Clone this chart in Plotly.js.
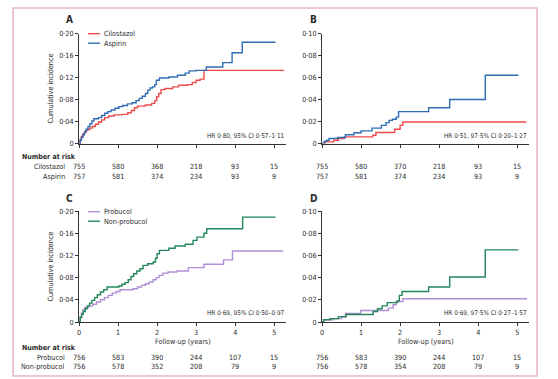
<!DOCTYPE html>
<html>
<head>
<meta charset="utf-8">
<script src="https://cdn.plot.ly/plotly-3.0.1.min.js"></script>
<style>html,body{margin:0;padding:0;background:#fff;}#chart{width:558px;height:379px;}</style>
</head>
<body>
<div id="chart"></div>
<script>
// ---------- data ----------
// Panel A (cilostazol vs aspirin, all outcomes)
const aAspT = [0,0.03,0.06,0.1,0.14,0.18,0.23,0.28,0.33,0.38,0.5,0.58,0.66,0.74,0.82,0.92,1.02,1.12,1.24,1.36,1.46,1.54,1.62,1.7,1.76,1.82,1.88,1.94,1.98,2.06,2.3,2.52,2.72,2.82,3.0,3.26,3.68,3.92,4.18,5.03];
const aAspY = [0,0.006,0.011,0.016,0.021,0.026,0.031,0.036,0.041,0.045,0.047,0.051,0.055,0.058,0.061,0.064,0.067,0.069,0.072,0.074,0.078,0.082,0.086,0.091,0.097,0.101,0.103,0.107,0.115,0.119,0.121,0.124,0.128,0.132,0.133,0.139,0.147,0.165,0.184,0.184];
const aCilT = [0,0.03,0.06,0.1,0.15,0.2,0.27,0.34,0.42,0.5,0.58,0.66,0.76,0.9,1.1,1.25,1.34,1.42,1.5,1.7,1.86,1.94,1.99,2.04,2.1,2.2,2.4,2.55,2.78,2.9,3.0,3.1,3.2,5.25];
const aCilY = [0,0.007,0.013,0.018,0.022,0.025,0.028,0.031,0.035,0.039,0.043,0.047,0.050,0.052,0.053,0.056,0.060,0.065,0.068,0.070,0.073,0.078,0.085,0.091,0.098,0.100,0.103,0.106,0.107,0.111,0.115,0.117,0.133,0.133];
// Panel B
const bAspT = [0,0.06,0.12,0.18,0.4,0.6,0.82,1.0,1.28,1.52,1.64,1.72,1.8,1.9,1.96,2.73,3.27,4.18,5.03];
const bAspY = [0,0.002,0.003,0.0045,0.0055,0.008,0.0098,0.0115,0.014,0.0165,0.019,0.021,0.022,0.024,0.029,0.0325,0.040,0.062,0.062];
const bCilT = [0,0.08,0.3,0.42,0.57,1.3,1.38,1.86,2.0,2.07,5.23];
const bCilY = [0,0.0015,0.003,0.0045,0.006,0.0075,0.010,0.013,0.0165,0.0195,0.0195];
// Panel C (probucol vs non-probucol)
const cNonT = [0,0.03,0.07,0.11,0.16,0.21,0.27,0.33,0.4,0.47,0.55,0.63,0.72,1.02,1.1,1.18,1.26,1.33,1.4,1.48,1.56,1.64,1.76,1.9,1.96,2.0,2.06,2.3,2.46,2.72,2.92,3.02,3.2,3.27,4.19,5.03];
const cNonY = [0,0.008,0.014,0.019,0.024,0.029,0.034,0.039,0.044,0.049,0.054,0.058,0.063,0.065,0.068,0.071,0.076,0.082,0.087,0.092,0.096,0.102,0.105,0.108,0.115,0.123,0.129,0.133,0.137,0.140,0.147,0.153,0.160,0.168,0.189,0.189];
const cProT = [0,0.03,0.06,0.1,0.15,0.25,0.35,0.45,0.55,0.65,0.75,0.85,0.95,1.05,1.38,1.5,1.6,1.7,1.8,1.9,1.98,2.05,2.15,2.28,2.5,2.8,3.2,3.7,3.93,5.23];
const cProY = [0,0.009,0.016,0.022,0.026,0.029,0.032,0.036,0.040,0.044,0.048,0.052,0.055,0.058,0.060,0.063,0.066,0.069,0.072,0.076,0.080,0.084,0.088,0.090,0.092,0.098,0.104,0.112,0.128,0.128];
// Panel D
const dNonT = [0,0.04,0.2,0.42,0.62,1.31,1.42,1.54,1.67,1.93,1.98,2.05,2.73,3.27,4.18,5.03];
const dNonY = [0,0.002,0.003,0.0048,0.0068,0.0095,0.012,0.0145,0.0175,0.019,0.024,0.0275,0.0315,0.0405,0.065,0.065];
const dProT = [0,0.04,0.3,0.5,0.6,0.99,1.7,1.82,1.9,2.07,5.25];
const dProY = [0,0.002,0.003,0.0045,0.0077,0.0103,0.0125,0.0155,0.0185,0.021,0.021];

// Number at risk
const riskYears = [0,1,2,3,4,5];
const aRiskCil = [755,580,368,218,93,15];
const aRiskAsp = [757,581,374,234,93,9];
const bRiskCil = [755,580,370,218,93,15];
const bRiskAsp = [757,581,374,234,93,9];
const cRiskPro = [756,583,390,244,107,15];
const cRiskNon = [756,578,352,208,79,9];
const dRiskPro = [756,583,390,244,107,15];
const dRiskNon = [756,578,354,208,79,9];

// Tick labels
const xTicks = [0,1,2,3,4,5];
const xTickText = ['0','1','2','3','4','5'];
const yTicksBig = [0,0.04,0.08,0.12,0.16,0.20];
const yTextBig = ['0','0·04','0·08','0·12','0·16','0·20'];
const yTicksSmall = [0,0.02,0.04,0.06,0.08,0.10];
const yTextSmall = ['0','0·02','0·04','0·06','0·08','0·10'];

const hrText = ['HR 0·80, 95% CI 0·57–1·11','HR 0·51, 97·5% CI 0·20–1·27','HR 0·69, 95% CI 0·50–0·97','HR 0·69, 97·5% CI 0·27–1·57'];

// ---------- styling ----------
const W = 558, H = 379;
const FONT = "'Liberation Sans Narrow', 'DejaVu Sans Condensed', 'Noto Sans', sans-serif";
const TXT = '#2b2b2b';
const RED = '#ef4b4b', BLUE = '#2e6db4', GREEN = '#23875a', PURPLE = '#b08fd6';
const FS = 7.2;
const px = v => v / W;
const py = v => 1 - v / H;

function trace(x, y, color, xa, ya, name) {
  return {x, y, type: 'scatter', mode: 'lines', line: {shape: 'hv', color, width: 1.4},
          xaxis: xa, yaxis: ya, name, showlegend: false, hoverinfo: 'skip'};
}
const data = [
  trace(aCilT, aCilY, RED, 'x', 'y', 'Cilostazol'),
  trace(aAspT, aAspY, BLUE, 'x', 'y', 'Aspirin'),
  trace(bCilT, bCilY, RED, 'x2', 'y2', 'Cilostazol'),
  trace(bAspT, bAspY, BLUE, 'x2', 'y2', 'Aspirin'),
  trace(cProT, cProY, PURPLE, 'x3', 'y3', 'Probucol'),
  trace(cNonT, cNonY, GREEN, 'x3', 'y3', 'Non-probucol'),
  trace(dProT, dProY, PURPLE, 'x4', 'y4', 'Probucol'),
  trace(dNonT, dNonY, GREEN, 'x4', 'y4', 'Non-probucol')
];

const leftX = [px(79), px(286)], rightX = [px(322), px(529)];
const topY = [py(143.5), py(33.5)], botY = [py(322), py(211)];

function xax(dom, anchor, labels) {
  return {domain: dom, anchor, range: [0, 5.3], tickvals: xTicks, ticktext: xTickText,
          showticklabels: labels, ticks: 'outside', ticklen: 3, tickwidth: 1, tickcolor: '#333',
          showline: true, linecolor: '#333', linewidth: 1, showgrid: false, zeroline: false,
          tickfont: {family: FONT, size: FS, color: TXT}, fixedrange: true};
}
function yax(dom, anchor, max, vals, text) {
  return {domain: dom, anchor, range: [0, max], tickvals: vals, ticktext: text,
          ticks: 'outside', ticklen: 3, tickwidth: 1, tickcolor: '#333',
          showline: true, linecolor: '#333', linewidth: 1, showgrid: false, zeroline: false,
          tickfont: {family: FONT, size: FS, color: TXT}, fixedrange: true};
}

const ann = [];
function txt(x, y, text, opts) {
  ann.push(Object.assign({x, y, xref: 'paper', yref: 'paper', text, showarrow: false,
    xanchor: 'center', yanchor: 'middle', font: {family: FONT, size: FS, color: TXT}}, opts || {}));
}
// panel letters
const letterFont = {family: FONT, size: 10, color: TXT};
txt(px(69), py(19), '<b>A</b>', {font: letterFont});
txt(px(313), py(19), '<b>B</b>', {font: letterFont});
txt(px(69), py(198), '<b>C</b>', {font: letterFont});
txt(px(313), py(198), '<b>D</b>', {font: letterFont});
// y titles
txt(px(50), py(88.5), 'Cumulative incidence', {textangle: -90});
txt(px(50), py(266.5), 'Cumulative incidence', {textangle: -90});
// x titles
txt(px(182.5), py(341.7), 'Follow-up (years)');
txt(px(425.5), py(341.7), 'Follow-up (years)');
// HR
const hrFont = {family: FONT, size: 6.4, color: TXT};
txt(px(287), py(136), hrText[0], {xanchor: 'right', font: hrFont});
txt(px(529), py(136), hrText[1], {xanchor: 'right', font: hrFont});
txt(px(287), py(313), hrText[2], {xanchor: 'right', font: hrFont});
txt(px(529), py(313), hrText[3], {xanchor: 'right', font: hrFont});
// legends
const legendItems = [
  {y: 33.7, color: RED, label: 'Cilostazol'},
  {y: 43.2, color: BLUE, label: 'Aspirin'},
  {y: 211.7, color: PURPLE, label: 'Probucol'},
  {y: 221.2, color: GREEN, label: 'Non-probucol'}
];
const shapes = [];
legendItems.forEach(it => {
  shapes.push({type: 'line', xref: 'paper', yref: 'paper', x0: px(88), x1: px(100), y0: py(it.y), y1: py(it.y),
               line: {color: it.color, width: 1.4}});
  txt(px(102), py(it.y), it.label, {xanchor: 'left'});
});
// frame
shapes.push({type: 'rect', xref: 'paper', yref: 'paper', x0: px(13), x1: px(537), y0: py(376), y1: py(8),
             line: {color: '#eab4c6', width: 1.6}, layer: 'below'});

// number at risk
function riskBlock(xa, head, rows, headY, rowY) {
  if (head) {
    txt(px(20), py(headY), '<b>Number at risk</b>', {xanchor: 'left', font: {family: FONT, size: 7, color: TXT}});
  }
  rows.forEach((r, i) => {
    if (head) txt(px(67), py(rowY[i]), r.label, {xanchor: 'right'});
    r.vals.forEach((v, j) => {
      ann.push({x: riskYears[j], y: py(rowY[i]), xref: xa, yref: 'paper', text: String(v), showarrow: false,
                xanchor: 'center', yanchor: 'middle', font: {family: FONT, size: FS, color: TXT}});
    });
  });
}
riskBlock('x', true, [{label: 'Cilostazol', vals: aRiskCil}, {label: 'Aspirin', vals: aRiskAsp}], 157.3, [166.7, 176]);
riskBlock('x2', false, [{label: 'Cilostazol', vals: bRiskCil}, {label: 'Aspirin', vals: bRiskAsp}], 157.3, [166.7, 176]);
riskBlock('x3', true, [{label: 'Probucol', vals: cRiskPro}, {label: 'Non-probucol', vals: cRiskNon}], 347.7, [357, 366]);
riskBlock('x4', false, [{label: 'Probucol', vals: dRiskPro}, {label: 'Non-probucol', vals: dRiskNon}], 347.7, [357, 366]);

const layout = {
  width: W, height: H, margin: {l: 0, r: 0, t: 0, b: 0},
  paper_bgcolor: '#fff', plot_bgcolor: 'rgba(0,0,0,0)', showlegend: false,
  font: {family: FONT, size: FS, color: TXT},
  xaxis: xax(leftX, 'y', false), yaxis: yax(topY, 'x', 0.2, yTicksBig, yTextBig),
  xaxis2: xax(rightX, 'y2', false), yaxis2: yax(topY, 'x2', 0.1, yTicksSmall, yTextSmall),
  xaxis3: xax(leftX, 'y3', true), yaxis3: yax(botY, 'x3', 0.2, yTicksBig, yTextBig),
  xaxis4: xax(rightX, 'y4', true), yaxis4: yax(botY, 'x4', 0.1, yTicksSmall, yTextSmall),
  annotations: ann, shapes
};
Plotly.newPlot('chart', data, layout, {staticPlot: true, displayModeBar: false});
</script>
</body>
</html>
